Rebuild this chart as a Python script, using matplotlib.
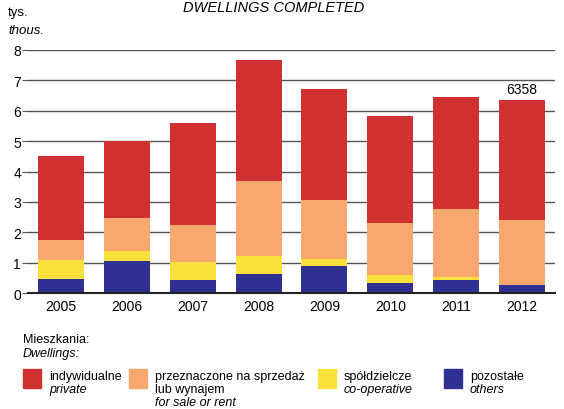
import numpy as np
import matplotlib.pyplot as plt
from matplotlib.patches import Rectangle

years = ["2005", "2006", "2007", "2008", "2009", "2010", "2011", "2012"]
others = [0.47, 1.07, 0.45, 0.63, 0.90, 0.34, 0.44, 0.27]
cooperative = [0.62, 0.32, 0.59, 0.60, 0.23, 0.26, 0.10, 0.00]
for_sale = [0.66, 1.08, 1.21, 2.46, 1.93, 1.71, 2.23, 2.14]
private = [2.76, 2.54, 3.34, 3.97, 3.65, 3.51, 3.67, 3.948]
last_label = "6358"

colors = {
    "private": "#CE3130",
    "sale": "#F8A86E",
    "coop": "#F9E03A",
    "others": "#2E3192",
}

plt.rcParams["font.family"] = ["Liberation Sans", "DejaVu Sans"]

W, H = 564, 410


def px(x, y):
    return x / W, 1 - y / H


fig = plt.figure(figsize=(W / 100, H / 100), dpi=100)
ax = fig.add_axes([28 / W, 1 - 294.3 / H, (555 - 28) / W, (294.3 - 50.7) / H])

x = np.arange(len(years))
bottom = np.zeros(len(years))
for vals, key in [(others, "others"), (cooperative, "coop"),
                  (for_sale, "sale"), (private, "private")]:
    ax.bar(x, vals, width=0.7, bottom=bottom, color=colors[key], zorder=3)
    bottom = bottom + np.array(vals)

ax.set_xlim(-0.5, 7.5)
ax.set_ylim(0, 8)
for v in range(1, 9):
    ax.axhline(v, color="#555555", lw=1.0, zorder=1)
ax.axhline(0, color="#222222", lw=1.5, zorder=4, clip_on=False)
for s in ax.spines.values():
    s.set_visible(False)
ax.set_yticks(range(0, 9))
ax.set_xticks(x)
ax.set_xticklabels(years)
ax.tick_params(axis="y", length=4, color="#555555", labelsize=10, pad=1)
ax.tick_params(axis="x", length=0, labelsize=10, pad=4)

ax.text(x[-1], bottom[-1] + 0.12, last_label, ha="center", va="bottom", fontsize=10)

fig.text(*px(274, 8), "DWELLINGS COMPLETED", ha="center", va="center",
         fontsize=10.5, style="italic")
fig.text(*px(8, 13), "tys.", ha="left", va="center", fontsize=9.5)
fig.text(*px(8, 31), "thous.", ha="left", va="center", fontsize=9.5, style="italic")

fig.text(*px(23, 340), "Mieszkania:", ha="left", va="center", fontsize=9)
fig.text(*px(23, 354), "Dwellings:", ha="left", va="center", fontsize=9, style="italic")

legend_items = [
    (23, "private", ["indywidualne"], ["private"]),
    (129, "sale", ["przeznaczone na sprzedaż", "lub wynajem"], ["for sale or rent"]),
    (318, "coop", ["spółdzielcze"], ["co-operative"]),
    (444, "others", ["pozostałe"], ["others"]),
]
for lx, key, pl, en in legend_items:
    fig.patches.append(Rectangle(px(lx, 389), 18 / W, 19 / H,
                                 transform=fig.transFigure, color=colors[key]))
    ty = 377
    for t in pl:
        fig.text(*px(lx + 26, ty), t, ha="left", va="center", fontsize=9)
        ty += 13
    for t in en:
        fig.text(*px(lx + 26, ty), t, ha="left", va="center", fontsize=9,
                 style="italic")
        ty += 13

fig.savefig("out.png", dpi=100)
